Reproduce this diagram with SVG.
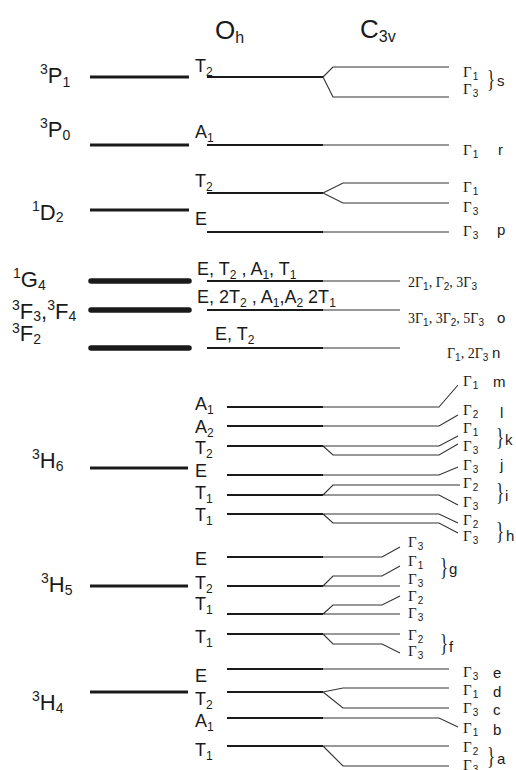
<svg xmlns="http://www.w3.org/2000/svg" width="516" height="770" viewBox="0 0 516 770">
<style>
.ion{stroke:#1a1a1a;stroke-width:3.2;fill:none}
.ionb{stroke:#1a1a1a;stroke-width:5.5;stroke-linecap:round;fill:none}
.oh{stroke:#1a1a1a;stroke-width:2.2;fill:none}
.c{stroke:#333;stroke-width:1.1;fill:none}
.cg{stroke:#777;stroke-width:1.4;fill:none}
text{fill:#1a1a1a}
.lab{font-family:"Liberation Sans",Arial,sans-serif;font-size:22px}
.hd{font-family:"Liberation Sans",Arial,sans-serif;font-size:26px}
.ol{font-family:"Liberation Sans",Arial,sans-serif;font-size:18px}
.g{font-family:"Liberation Serif","Times New Roman",serif;font-size:14px}
.gr{font-family:"Liberation Serif","Times New Roman",serif;font-size:15px}
.let{font-family:"Liberation Sans",Arial,sans-serif;font-size:15px}
.br{font-family:"Liberation Serif","Times New Roman",serif;font-size:26px}
.ss{font-family:"Liberation Sans",Arial,sans-serif;font-size:14px}
.so{font-size:12px}
.sg{font-family:"Liberation Sans",Arial,sans-serif;font-size:10px}
</style>

<g id="headers">
<text class="hd" x="215" y="39">O<tspan font-size="16" dy="4">h</tspan></text>
<text class="hd" x="360" y="38">C<tspan font-size="16" dy="4">3v</tspan></text>
</g>

<g id="free-ion">
<g id="ion-3P1"><line class="ion" x1="90" y1="77" x2="189" y2="77"/><text class="lab" x="40" y="83"><tspan class="ss" dy="-9">3</tspan><tspan dy="9">P</tspan><tspan class="ss" dy="4">1</tspan></text></g>
<g id="ion-3P0"><line class="ion" x1="90" y1="145" x2="189" y2="145"/><text class="lab" x="40" y="137"><tspan class="ss" dy="-9">3</tspan><tspan dy="9">P</tspan><tspan class="ss" dy="3">0</tspan></text></g>
<g id="ion-1D2"><line class="ion" x1="90" y1="210" x2="189" y2="210"/><text class="lab" x="32" y="220"><tspan class="ss" dy="-9">1</tspan><tspan dy="9">D</tspan><tspan class="ss" dy="2">2</tspan></text></g>
<g id="ion-1G4"><line class="ionb" x1="91" y1="281" x2="189" y2="281"/><text class="lab" x="13" y="287"><tspan class="ss" dy="-9">1</tspan><tspan dy="9">G</tspan><tspan class="ss" dy="3">4</tspan></text></g>
<g id="ion-3F3F4"><line class="ionb" x1="91" y1="310" x2="189" y2="310"/><text class="lab" x="12" y="319"><tspan class="ss" dy="-9">3</tspan><tspan dy="9">F</tspan><tspan class="ss" dy="2">3</tspan><tspan dy="-2">,</tspan><tspan class="ss" dy="-9">3</tspan><tspan dy="9">F</tspan><tspan class="ss" dy="2">4</tspan></text></g>
<g id="ion-3F2"><line class="ionb" x1="91" y1="348" x2="189" y2="348"/><text class="lab" x="12" y="341"><tspan class="ss" dy="-8">3</tspan><tspan dy="8">F</tspan><tspan class="ss" dy="3">2</tspan></text></g>
<g id="ion-3H6"><line class="ion" x1="90" y1="468" x2="188" y2="468"/><text class="lab" x="32" y="468"><tspan class="ss" dy="-9">3</tspan><tspan dy="9">H</tspan><tspan class="ss" dy="3">6</tspan></text></g>
<g id="ion-3H5"><line class="ion" x1="90" y1="586" x2="188" y2="586"/><text class="lab" x="41" y="592"><tspan class="ss" dy="-9">3</tspan><tspan dy="9">H</tspan><tspan class="ss" dy="3">5</tspan></text></g>
<g id="ion-3H4"><line class="ion" x1="90" y1="692" x2="188" y2="692"/><text class="lab" x="32" y="710"><tspan class="ss" dy="-9">3</tspan><tspan dy="9">H</tspan><tspan class="ss" dy="3">4</tspan></text></g>
</g>

<g id="oh-levels">
<g id="oh-P1"><line class="oh" x1="207" y1="77" x2="323" y2="77"/><text class="ol" x="195" y="72">T<tspan class="so" dy="4">2</tspan></text></g>
<g id="oh-P0"><line class="oh" x1="207" y1="145" x2="323" y2="145"/><text class="ol" x="195" y="138">A<tspan class="so" dy="4">1</tspan></text></g>
<g id="oh-D-T2"><line class="oh" x1="207" y1="193" x2="323" y2="193"/><text class="ol" x="195" y="187">T<tspan class="so" dy="4">2</tspan></text></g>
<g id="oh-D-E"><line class="oh" x1="207" y1="232" x2="323" y2="232"/><text class="ol" x="195" y="225">E</text></g>
<g id="oh-G4"><line class="oh" x1="207" y1="281" x2="323" y2="281"/><text class="ol" x="197" y="275">E, T<tspan class="so" dy="4">2</tspan><tspan dy="-4"> , A</tspan><tspan class="so" dy="4">1</tspan><tspan dy="-4">, T</tspan><tspan class="so" dy="4">1</tspan></text></g>
<g id="oh-F34"><line class="oh" x1="207" y1="310" x2="323" y2="310"/><text class="ol" x="197" y="303">E, 2T<tspan class="so" dy="4">2</tspan><tspan dy="-4"> , A</tspan><tspan class="so" dy="4">1</tspan><tspan dy="-4">,A</tspan><tspan class="so" dy="4">2</tspan><tspan dy="-4"> 2T</tspan><tspan class="so" dy="4">1</tspan></text></g>
<g id="oh-F2"><line class="oh" x1="207" y1="348" x2="323" y2="348"/><text class="ol" x="215" y="340">E, T<tspan class="so" dy="4">2</tspan></text></g>
<g id="oh-H6-A1"><line class="oh" x1="227" y1="407" x2="323" y2="407"/><text class="ol" x="195" y="410">A<tspan class="so" dy="4">1</tspan></text></g>
<g id="oh-H6-A2"><line class="oh" x1="227" y1="426" x2="323" y2="426"/><text class="ol" x="195" y="433">A<tspan class="so" dy="4">2</tspan></text></g>
<g id="oh-H6-T2"><line class="oh" x1="227" y1="446" x2="323" y2="446"/><text class="ol" x="195" y="454">T<tspan class="so" dy="4">2</tspan></text></g>
<g id="oh-H6-E"><line class="oh" x1="227" y1="475" x2="323" y2="475"/><text class="ol" x="195" y="477">E</text></g>
<g id="oh-H6-T1a"><line class="oh" x1="227" y1="495" x2="323" y2="495"/><text class="ol" x="195" y="499">T<tspan class="so" dy="4">1</tspan></text></g>
<g id="oh-H6-T1b"><line class="oh" x1="227" y1="514" x2="323" y2="514"/><text class="ol" x="195" y="521">T<tspan class="so" dy="4">1</tspan></text></g>
<g id="oh-H5-E"><line class="oh" x1="227" y1="557" x2="323" y2="557"/><text class="ol" x="195" y="565">E</text></g>
<g id="oh-H5-T2"><line class="oh" x1="227" y1="586" x2="323" y2="586"/><text class="ol" x="195" y="589">T<tspan class="so" dy="4">2</tspan></text></g>
<g id="oh-H5-T1a"><line class="oh" x1="227" y1="614" x2="323" y2="614"/><text class="ol" x="195" y="610">T<tspan class="so" dy="4">1</tspan></text></g>
<g id="oh-H5-T1b"><line class="oh" x1="227" y1="634" x2="323" y2="634"/><text class="ol" x="195" y="643">T<tspan class="so" dy="4">1</tspan></text></g>
<g id="oh-H4-E"><line class="oh" x1="227" y1="669" x2="323" y2="669"/><text class="ol" x="195" y="682">E</text></g>
<g id="oh-H4-T2"><line class="oh" x1="227" y1="692" x2="323" y2="692"/><text class="ol" x="195" y="705">T<tspan class="so" dy="4">2</tspan></text></g>
<g id="oh-H4-A1"><line class="oh" x1="227" y1="718" x2="323" y2="718"/><text class="ol" x="195" y="727">A<tspan class="so" dy="4">1</tspan></text></g>
<g id="oh-H4-T1"><line class="oh" x1="227" y1="746" x2="323" y2="746"/><text class="ol" x="195" y="756">T<tspan class="so" dy="4">1</tspan></text></g>
</g>

<g id="connectors">
<path class="c" d="M323,77 L333,67 H449 M323,77 L333,97 H449"/>
<path class="c" d="M323,145 H449"/>
<path class="c" d="M323,193 L343,183 H449 M323,193 L343,203 H449"/>
<path class="c" d="M323,232 H449"/>
<path class="cg" d="M323,281 H400 M323,310 H400 M323,348 H400"/>
<path class="c" d="M323,407 H439 L458,385"/>
<path class="c" d="M323,426 H439 L458,415"/>
<path class="c" d="M323,446 H439 L458,436 M323,446 L333,455 H439 L458,444"/>
<path class="c" d="M323,475 H439 L458,467"/>
<path class="c" d="M323,495 L333,485 H460 M323,495 H439 L458,505"/>
<path class="c" d="M323,514 H439 L458,523 M323,514 L333,523 H439 L458,533"/>
<path class="c" d="M323,557 H382 L400,547"/>
<path class="c" d="M323,586 H400 M323,586 L333,576 H382 L400,566"/>
<path class="c" d="M323,614 H400 M323,614 L333,605 H382 L400,596"/>
<path class="c" d="M323,634 H400 M323,634 L333,644 H382 L400,653"/>
<path class="c" d="M323,669 H449"/>
<path class="c" d="M323,692 L343,688 H449 M323,692 L343,708 H449"/>
<path class="c" d="M323,718 H439 L458,727"/>
<path class="c" d="M323,746 H449 M323,746 L343,766 H449"/>
</g>

<g id="c3v-labels">
<text class="gr" x="463" y="77">Γ<tspan class="sg" dx="1" dy="3">1</tspan></text>
<text class="gr" x="463" y="94">Γ<tspan class="sg" dx="1" dy="3">3</tspan></text>
<text class="br" transform="translate(487,87) scale(0.65,1)">}</text><text class="let" x="497" y="86">s</text>
<text class="gr" x="463" y="155">Γ<tspan class="sg" dx="1" dy="3">1</tspan></text><text class="let" x="498" y="155">r</text>
<text class="gr" x="463" y="192">Γ<tspan class="sg" dx="1" dy="3">1</tspan></text>
<text class="gr" x="463" y="212">Γ<tspan class="sg" dx="1" dy="3">3</tspan></text>
<text class="gr" x="463" y="236">Γ<tspan class="sg" dx="1" dy="3">3</tspan></text><text class="let" x="497" y="235">p</text>
<text class="g" x="408" y="287">2Γ<tspan class="sg" dy="3">1</tspan><tspan dy="-3">, Γ</tspan><tspan class="sg" dy="3">2</tspan><tspan dy="-3">, 3Γ</tspan><tspan class="sg" dy="3">3</tspan></text>
<text class="g" x="408" y="323">3Γ<tspan class="sg" dy="3">1</tspan><tspan dy="-3">, 3Γ</tspan><tspan class="sg" dy="3">2</tspan><tspan dy="-3">, 5Γ</tspan><tspan class="sg" dy="3">3</tspan></text><text class="let" x="497" y="323">o</text>
<text class="g" x="447" y="358">Γ<tspan class="sg" dy="3">1</tspan><tspan dy="-3">, 2Γ</tspan><tspan class="sg" dy="3">3</tspan></text><text class="let" x="492" y="358">n</text>
<text class="gr" x="463" y="386">Γ<tspan class="sg" dx="1" dy="3">1</tspan></text><text class="let" x="493" y="387">m</text>
<text class="gr" x="463" y="415">Γ<tspan class="sg" dx="1" dy="3">2</tspan></text><text class="let" x="500" y="418">l</text>
<text class="gr" x="463" y="433">Γ<tspan class="sg" dx="1" dy="3">1</tspan></text>
<text class="gr" x="463" y="451">Γ<tspan class="sg" dx="1" dy="3">3</tspan></text>
<text class="br" transform="translate(496,445) scale(0.65,1)">}</text><text class="let" x="505" y="445">k</text>
<text class="gr" x="463" y="470">Γ<tspan class="sg" dx="1" dy="3">3</tspan></text><text class="let" x="500" y="470">j</text>
<text class="gr" x="463" y="488">Γ<tspan class="sg" dx="1" dy="3">2</tspan></text>
<text class="gr" x="463" y="507">Γ<tspan class="sg" dx="1" dy="3">3</tspan></text>
<text class="br" transform="translate(496,500) scale(0.65,1)">}</text><text class="let" x="505" y="501">i</text>
<text class="gr" x="463" y="525">Γ<tspan class="sg" dx="1" dy="3">2</tspan></text>
<text class="gr" x="463" y="541">Γ<tspan class="sg" dx="1" dy="3">3</tspan></text>
<text class="br" transform="translate(496,539) scale(0.65,1)">}</text><text class="let" x="506" y="541">h</text>
<text class="gr" x="408" y="547">Γ<tspan class="sg" dx="1" dy="3">3</tspan></text>
<text class="gr" x="408" y="566">Γ<tspan class="sg" dx="1" dy="3">1</tspan></text>
<text class="gr" x="408" y="584">Γ<tspan class="sg" dx="1" dy="3">3</tspan></text>
<text class="br" transform="translate(440,575) scale(0.65,1)">}</text><text class="let" x="449" y="574">g</text>
<text class="gr" x="408" y="601">Γ<tspan class="sg" dx="1" dy="3">2</tspan></text>
<text class="gr" x="408" y="618">Γ<tspan class="sg" dx="1" dy="3">3</tspan></text>
<text class="gr" x="408" y="640">Γ<tspan class="sg" dx="1" dy="3">2</tspan></text>
<text class="gr" x="408" y="656">Γ<tspan class="sg" dx="1" dy="3">3</tspan></text>
<text class="br" transform="translate(440,651) scale(0.65,1)">}</text><text class="let" x="449" y="652">f</text>
<text class="gr" x="463" y="677">Γ<tspan class="sg" dx="1" dy="3">3</tspan></text><text class="let" x="493" y="678">e</text>
<text class="gr" x="463" y="695">Γ<tspan class="sg" dx="1" dy="3">1</tspan></text><text class="let" x="493" y="697">d</text>
<text class="gr" x="463" y="713">Γ<tspan class="sg" dx="1" dy="3">3</tspan></text><text class="let" x="493" y="715">c</text>
<text class="gr" x="463" y="733">Γ<tspan class="sg" dx="1" dy="3">1</tspan></text><text class="let" x="493" y="735">b</text>
<text class="gr" x="463" y="752">Γ<tspan class="sg" dx="1" dy="3">2</tspan></text>
<text class="gr" x="463" y="770">Γ<tspan class="sg" dx="1" dy="3">3</tspan></text>
<text class="br" transform="translate(487,764) scale(0.65,1)">}</text><text class="let" x="497" y="764">a</text>
</g>
</svg>
